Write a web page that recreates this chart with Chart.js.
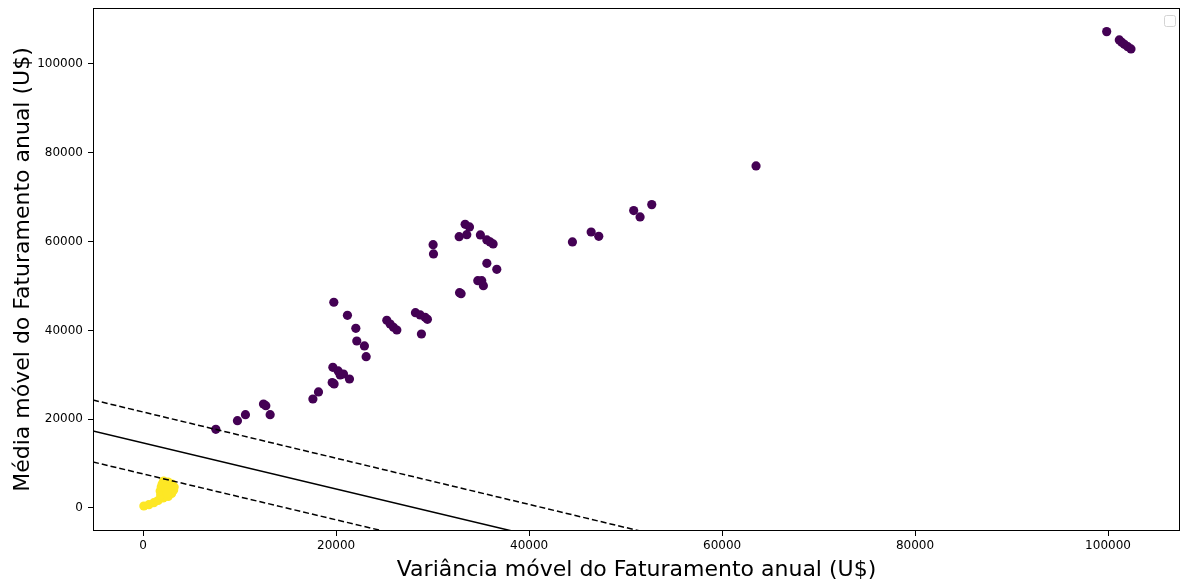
<!DOCTYPE html>
<html>
<head>
<meta charset="utf-8">
<title>Média x Variância móvel do Faturamento anual</title>
<script src="https://cdn.jsdelivr.net/npm/chart.js@4/dist/chart.umd.min.js"></script>
<style>
  html, body { margin: 0; padding: 0; background: #ffffff; }
  #wrap { width: 1181px; height: 581px; }
</style>
</head>
<body>
<div id="wrap"><canvas id="chart" width="1181" height="581"></canvas></div>
<script>
// Cluster 0 (purple): rolling variance (x) and rolling mean (y) of annual revenue
const cluster0X = [7530, 9770, 10600, 12470, 12710, 13160, 17590, 18170, 19760, 19660,
  19590, 19790, 20210, 20420, 20760, 21380, 21170, 22040, 22140, 22930,
  23110, 25250, 25600, 25940, 26290, 28220, 28710, 29220, 29460, 28840,
  30050, 30090, 32790, 32950, 32750, 33370, 33820, 33540, 34950, 35620,
  35960, 36270, 35620, 36650, 34680, 35090, 35260, 44490, 46430, 47220,
  50840, 51500, 52710, 63520, 99860, 101170, 101420, 101690, 102040, 102380];
const cluster0Y = [17720, 19660, 21010, 23420, 23040, 21010, 24550, 26130, 46330, 31690,
  28240, 27940, 30860, 29960, 30180, 29050, 43400, 40470, 37610, 36490,
  34080, 42280, 41440, 40700, 40090, 43990, 43470, 42950, 42500, 39190,
  59300, 57210, 48500, 48270, 61100, 63890, 63290, 61550, 61490, 60360,
  59910, 59460, 55110, 53760, 51200, 51200, 50070, 59910, 62160, 61190,
  66990, 65560, 68320, 77030, 107280, 105410, 104880, 104430, 103900, 103380];

// Cluster 1 (yellow): small accounts near the origin
const cluster1X = [70, 590, 1110, 1550, 2120, 2590, 3000, 3210, 3160, 2950,
  2590, 2070, 1810, 1760, 1870, 1970, 2380, 2690, 2490];
const cluster1Y = [450, 740, 1190, 1690, 6080, 5860, 5400, 4730, 4050, 3270,
  2590, 2250, 2930, 3830, 4730, 5400, 4280, 4730, 3380];

// Separating hyperplane and its margins (end points)
const boundaryX = [-5200, 38240];
const boundaryY = [17340, -5180];
const marginUpperX = [-5200, 51500];
const marginUpperY = [24320, -5180];
const marginLowerX = [-5200, 24870];
const marginLowerY = [10360, -5180];

// Axis ticks and ranges
const xTicks = [0, 20000, 40000, 60000, 80000, 100000];
const yTicks = [0, 20000, 40000, 60000, 80000, 100000];
const xRange = [-5200, 107460];
const yRange = [-5180, 112600];

const xTitle = 'Variância móvel do Faturamento anual (U$)';
const yTitle = 'Média móvel do Faturamento anual (U$)';

const pairs = (xs, ys) => xs.map((x, i) => ({ x: x, y: ys[i] }));
const FONT = '"DejaVu Sans", sans-serif';

// Box around the plot area plus the (empty) legend frame
const framePlugin = {
  id: 'frame',
  afterDraw(chart) {
    const { ctx, chartArea: a } = chart;
    ctx.save();
    ctx.strokeStyle = '#000000';
    ctx.lineWidth = 1;
    ctx.strokeRect(Math.round(a.left) + 0.5, Math.round(a.top) + 0.5,
      Math.round(a.right - a.left) - 1, Math.round(a.bottom - a.top) - 1);
    // empty legend box
    const bx = a.right - 15.5, by = a.top + 7.5, bs = 11, r = 2;
    ctx.beginPath();
    ctx.moveTo(bx + r, by);
    ctx.arcTo(bx + bs, by, bx + bs, by + bs, r);
    ctx.arcTo(bx + bs, by + bs, bx, by + bs, r);
    ctx.arcTo(bx, by + bs, bx, by, r);
    ctx.arcTo(bx, by, bx + bs, by, r);
    ctx.closePath();
    ctx.fillStyle = '#ffffff';
    ctx.fill();
    ctx.strokeStyle = '#d4d4d4';
    ctx.stroke();
    ctx.restore();
  }
};

const lineStyle = (dash) => ({
  type: 'line',
  borderColor: '#000000',
  borderWidth: 1.5,
  borderDash: dash,
  pointRadius: 0,
  fill: false,
  tension: 0,
  showLine: true,
  order: 0,
  clip: 0
});

new Chart(document.getElementById('chart'), {
  type: 'scatter',
  data: {
    datasets: [
      Object.assign(lineStyle([]), { data: pairs(boundaryX, boundaryY) }),
      Object.assign(lineStyle([6, 3]), { data: pairs(marginUpperX, marginUpperY) }),
      Object.assign(lineStyle([6, 3]), { data: pairs(marginLowerX, marginLowerY) }),
      {
        data: pairs(cluster0X, cluster0Y),
        backgroundColor: '#440154',
        borderWidth: 0,
        pointRadius: 4.6,
        order: 1,
        clip: 0
      },
      {
        data: pairs(cluster1X, cluster1Y),
        backgroundColor: '#fde725',
        borderWidth: 0,
        pointRadius: 4.6,
        order: 1,
        clip: 0
      }
    ]
  },
  options: {
    responsive: false,
    animation: false,
    events: [],
    layout: { autoPadding: false, padding: { top: 8, right: 1, bottom: 0, left: 0 } },
    plugins: { legend: { display: false }, tooltip: { enabled: false } },
    scales: {
      x: {
        type: 'linear',
        min: xRange[0],
        max: xRange[1],
        afterBuildTicks: (s) => { s.ticks = xTicks.map(v => ({ value: v })); },
        afterFit: (s) => { s.height = 50; s.paddingLeft = 0; s.paddingRight = 0; },
        grid: { drawOnChartArea: false, drawTicks: true, tickLength: 5, color: '#000000', lineWidth: 1 },
        border: { display: false },
        ticks: { color: '#000000', font: { family: FONT, size: 12 }, padding: 3, maxRotation: 0,
          callback: (v) => String(v) },
        title: { display: true, text: xTitle, color: '#000000',
          font: { family: FONT, size: 22 }, padding: { top: 0, bottom: -2 } }
      },
      y: {
        type: 'linear',
        min: yRange[0],
        max: yRange[1],
        afterBuildTicks: (s) => { s.ticks = yTicks.map(v => ({ value: v })); },
        afterFit: (s) => { s.width = 93; s.paddingTop = 0; s.paddingBottom = 0; },
        grid: { drawOnChartArea: false, drawTicks: true, tickLength: 5, color: '#000000', lineWidth: 1 },
        border: { display: false },
        ticks: { color: '#000000', font: { family: FONT, size: 12 }, padding: 5,
          callback: (v) => String(v) },
        title: { display: true, text: yTitle, color: '#000000',
          font: { family: FONT, size: 22 }, padding: { top: 10, bottom: 0 } }
      }
    }
  },
  plugins: [framePlugin]
});
</script>
</body>
</html>
